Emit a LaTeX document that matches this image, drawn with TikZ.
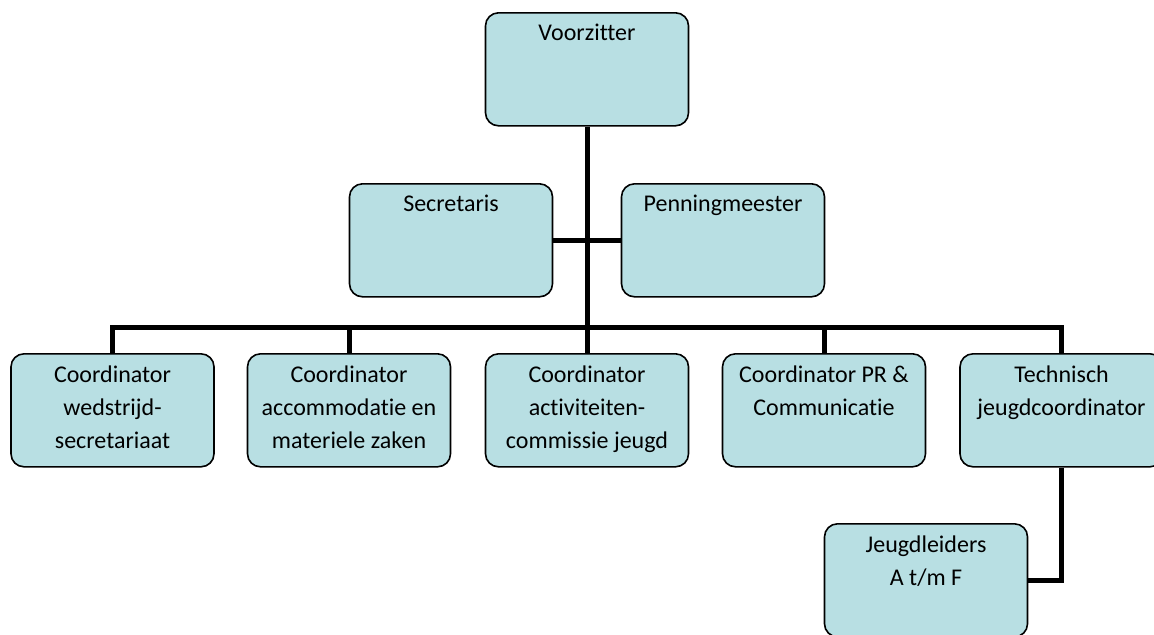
\documentclass[tikz,border=0pt]{standalone}
\usepackage{fontspec}
\setmainfont{Carlito}[Ligatures=NoCommon]
\definecolor{boxfill}{HTML}{B8DFE3}

\begin{document}
\begin{tikzpicture}[x=0.5pt, y=-0.5pt,
                    box/.style={draw, thick, rounded corners=6.5pt, fill=boxfill, anchor=north,
                                minimum width=101.5pt, minimum height=56.5pt, inner sep=0},
                    txt/.style={anchor=north, align=center, inner sep=0, yshift=-6pt,
                                font=\fontsize{12}{16.6}\selectfont},
                    conn/.style={line width=2.5pt}]
                \useasboundingbox (0,0) rectangle (1154,634);

                \node (vz) [box, label={[txt]north:Voorzitter}] at (587,12) {};
                \node (sec) [box, label={[txt]north:Secretaris}] at (451,183) {};
                \node (pen) [box, label={[txt]north:Penningmeester}] at (723,183) {};

                \node (c1) [box, label={[txt]north:Coordinator\\wedstrijd-\\secretariaat}] at (112.5,353) {};
                \node (c2) [box, label={[txt]north:Coordinator\\accommodatie en\\materiele zaken}] at (349,353) {};
                \node (c3) [box, label={[txt]north:Coordinator\\activiteiten-\\commissie jeugd}] at (587,353) {};
                \node (c4) [box, label={[txt]north:Coordinator PR \&\\Communicatie}] at (824,353) {};
                \node (c5) [box, label={[txt]north:Technisch\\jeugdcoordinator}] at (1061.5,353) {};
                \node (jl) [box, label={[txt]north:Jeugdleiders\\A t/m F}] at (926,523) {};

                \coordinate (hub) at (587,327);
                \draw [conn] (vz.south) -- (hub);
                \draw [conn] (sec.east) -- (pen.west);
                \draw [conn] (c1.north) |- (hub) -| (c5.north);
                \foreach \n in {c2,c3,c4}
                    \draw [conn] (\n.north) -- (\n.north |- hub);
                \draw [conn] (c5.south) |- (jl.east);
            \end{tikzpicture}
\end{document}
